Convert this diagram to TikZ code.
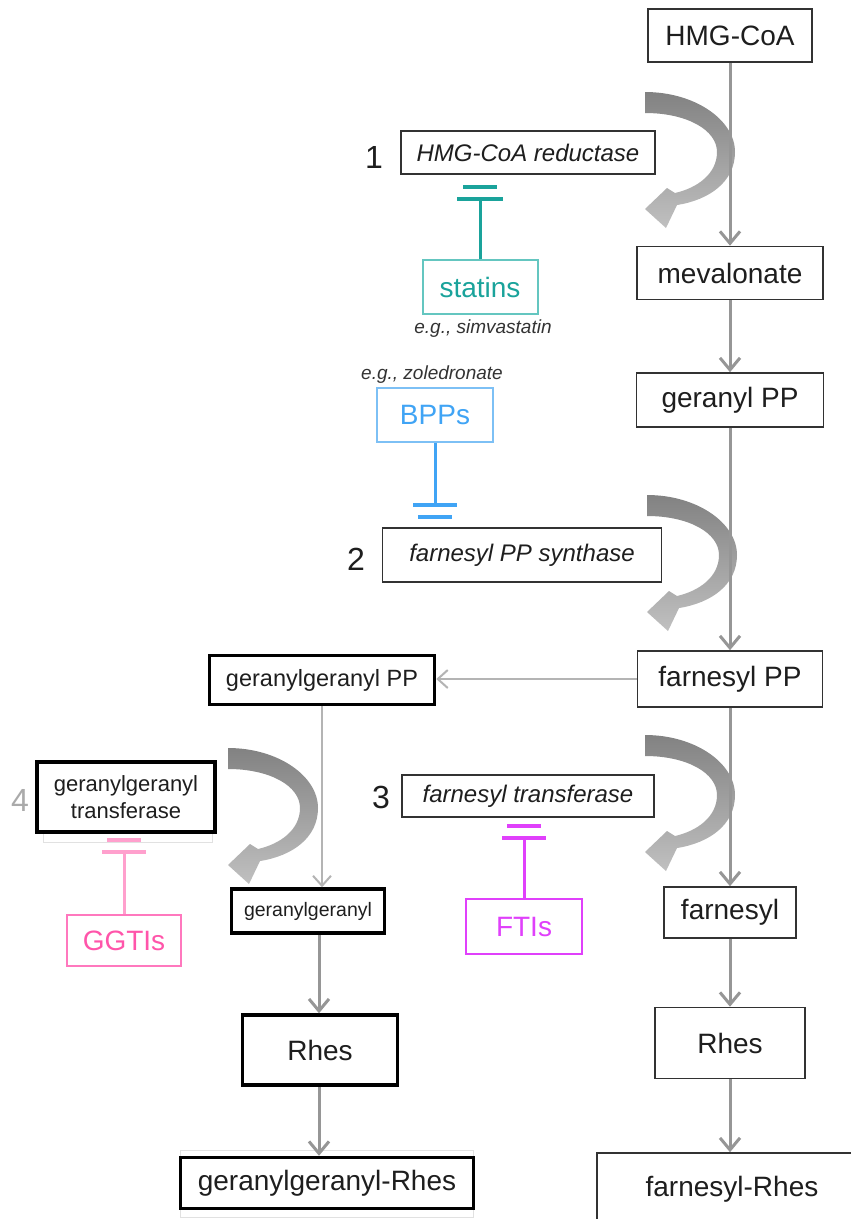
\documentclass[tikz,border=0pt]{standalone}
\usepackage{fontspec}
\setmainfont{Liberation Sans}
\usetikzlibrary{arrows.meta}
\definecolor{txt}{RGB}{30,30,30}
\definecolor{boxc}{RGB}{50,50,50}
\definecolor{arrc}{RGB}{150,150,150}
\definecolor{arrl}{RGB}{180,180,180}
\definecolor{cdark}{RGB}{130,130,130}
\definecolor{clight}{RGB}{192,192,192}
\definecolor{tealL}{RGB}{26,163,155}
\definecolor{tealB}{RGB}{100,198,192}
\definecolor{blueL}{RGB}{64,164,245}
\definecolor{blueB}{RGB}{125,192,245}
\definecolor{magL}{RGB}{224,64,251}
\definecolor{pinkT}{RGB}{255,85,170}
\definecolor{pinkB}{RGB}{255,120,190}
\definecolor{pinkL}{RGB}{255,160,205}
\definecolor{numgrey}{RGB}{170,170,170}
\definecolor{faint}{RGB}{225,225,225}
\newcommand\mycurve[1]{%
  \shade[top color=cdark,bottom color=clight,shift={#1}]
    (0,0) .. controls (50,0) and (90,28) .. (90,60)
    .. controls (90,90) and (64,108) .. (32,113)
    -- (21,136) -- (0,117) -- (22,96) -- (30,101)
    .. controls (52,96) and (72,82) .. (72,60)
    .. controls (72,38) and (42,21) .. (0,21) -- cycle;}
\begin{document}
\begin{tikzpicture}[x=1pt,y=-1pt,
  box/.style={draw=boxc,line width=1.6pt,fill=white,inner sep=0pt,text=txt,
    font=\fontsize{28}{32}\selectfont},
  tbox/.style={box,draw=black,line width=3.5pt},
  enz/.style={box,font=\fontsize{24}{28}\selectfont\itshape},
  drug/.style={draw,line width=2pt,fill=white,inner sep=0pt,
    font=\fontsize{28}{32}\selectfont},
  num/.style={font=\fontsize{32}{36}\selectfont,text=txt,inner sep=0pt},
  eg/.style={font=\fontsize{19}{22}\selectfont\itshape,text=black!80,inner sep=0pt},
  arr/.style={draw=arrc,line width=3pt,-{Straight Barb[length=12pt,width=20pt]}},
  arrthin/.style={draw=arrl,line width=2pt,-{Straight Barb[length=10pt,width=18pt]}},
  stem/.style={line width=3pt},
  ibar/.style={line width=4pt}]
\clip (0,0) rectangle (851,1219);
\fill[white] (0,0) rectangle (851,1219);

% curved enzyme arrows
\mycurve{(645,92)}
\mycurve{(647,495)}
\mycurve{(645,735)}
\mycurve{(228,748)}

% main column nodes
\node[box,minimum width=164pt,minimum height=53pt] (hmg) at (730,35.5) {HMG-CoA};
\node[box,minimum width=186pt,minimum height=53pt] (mev) at (730,273) {mevalonate};
\node[box,minimum width=187pt,minimum height=54pt] (gpp) at (730,400) {geranyl PP};
\node[box,minimum width=185pt,minimum height=56pt] (fpp) at (730,679) {farnesyl PP};
\node[box,minimum width=132pt,minimum height=51pt] (far) at (730,912.5) {farnesyl};
\node[box,minimum width=150pt,minimum height=71pt] (rhesR) at (730,1043) {Rhes};
\node[box,minimum width=270pt,minimum height=72pt] (farR) at (732,1189) {farnesyl-Rhes};

% left column nodes
\node[tbox,minimum width=225pt,minimum height=49pt,font=\fontsize{23.5}{28}\selectfont] (ggpp) at (322,680) {geranylgeranyl PP};
\node[tbox,minimum width=153pt,minimum height=44pt,font=\fontsize{19.5}{24}\selectfont] (gg) at (308,911) {geranylgeranyl};
\node[tbox,minimum width=155pt,minimum height=70pt] (rhesL) at (320,1050) {Rhes};
\draw[faint,line width=1pt] (180,1150) rectangle (473,1217);
\node[tbox,minimum width=293pt,minimum height=51pt] (ggR) at (327,1183) {geranylgeranyl-Rhes};

% enzymes
\node[enz,minimum width=254pt,minimum height=43pt] (hmgr) at (528,152.5) {HMG-CoA reductase};
\node[enz,minimum width=279pt,minimum height=54pt] (fpps) at (522,555) {farnesyl PP synthase};
\node[enz,minimum width=252pt,minimum height=42pt] (ft) at (528,796) {farnesyl transferase};
\draw[faint,line width=1pt] (43,772) rectangle (212,842);
\node[tbox,minimum width=178pt,minimum height=70pt,font=\fontsize{22}{27}\selectfont,align=center] (ggt) at (126,797) {geranylgeranyl\\transferase};

\node[num] (n1) at (374,157) {1};
\node[num] (n2) at (356,559) {2};
\node[num] (n3) at (381,797) {3};
\node[num,text=numgrey] (n4) at (20,800) {4};

% drugs
\node[drug,draw=tealB,text=tealL,minimum width=115pt,minimum height=54pt] (stat) at (480,287) {statins};
\node[eg] (egs) at (483,329) {e.g., simvastatin};
\node[drug,draw=blueB,text=blueL,minimum width=116pt,minimum height=54pt] (bpp) at (435,415) {BPPs};
\node[eg] (egz) at (432,375) {e.g., zoledronate};
\node[drug,draw=magL,text=magL,minimum width=116pt,minimum height=55pt] (fti) at (524,926.5) {FTIs};
\node[drug,draw=pinkB,text=pinkT,minimum width=114pt,minimum height=51pt] (ggti) at (124,940.5) {GGTIs};

% pathway arrows
\draw[arr] (hmg) -- (mev);
\draw[arr] (mev) -- (gpp);
\draw[arr] (gpp) -- (fpp);
\draw[arr] (fpp) -- (far);
\draw[arr] (far) -- (rhesR);
\draw[arr] (rhesR.south) -- (rhesR.south |- farR.north);
\draw[arrthin] (fpp.west) -- (fpp.west -| ggpp.east);
\draw[arrthin] (ggpp) -- (ggpp |- gg.north);
\draw[arr] (gg.south -| 319,0) -- (rhesL.north -| 319,0);
\draw[arr] (rhesL.south -| 319,0) -- (ggR.north -| 319,0);

% inhibitions
\coordinate (sT) at (480,199);
\draw[tealL,stem] (stat.north) -- (sT);
\draw[tealL,ibar] ([xshift=-23pt]sT) -- ([xshift=23pt]sT);
\draw[tealL,ibar] ([shift={(-17,-12)}]sT) -- ([shift={(17,-12)}]sT);

\coordinate (bT) at (435,505);
\draw[blueL,stem] (bpp.south) -- (bT);
\draw[blueL,ibar] ([xshift=-22pt]bT) -- ([xshift=22pt]bT);
\draw[blueL,ibar] ([shift={(-17,12)}]bT) -- ([shift={(17,12)}]bT);

\coordinate (fT) at (524,838);
\draw[magL,stem] (fti.north) -- (fT);
\draw[magL,ibar] ([xshift=-22pt]fT) -- ([xshift=22pt]fT);
\draw[magL,ibar] ([shift={(-17,-12)}]fT) -- ([shift={(17,-12)}]fT);

\coordinate (gT) at (124,852);
\draw[pinkL,stem] (ggti.north) -- (gT);
\draw[pinkL,ibar] ([xshift=-22pt]gT) -- ([xshift=22pt]gT);
\draw[pinkL,ibar] ([shift={(-17,-12)}]gT) -- ([shift={(17,-12)}]gT);
\end{tikzpicture}
\end{document}
